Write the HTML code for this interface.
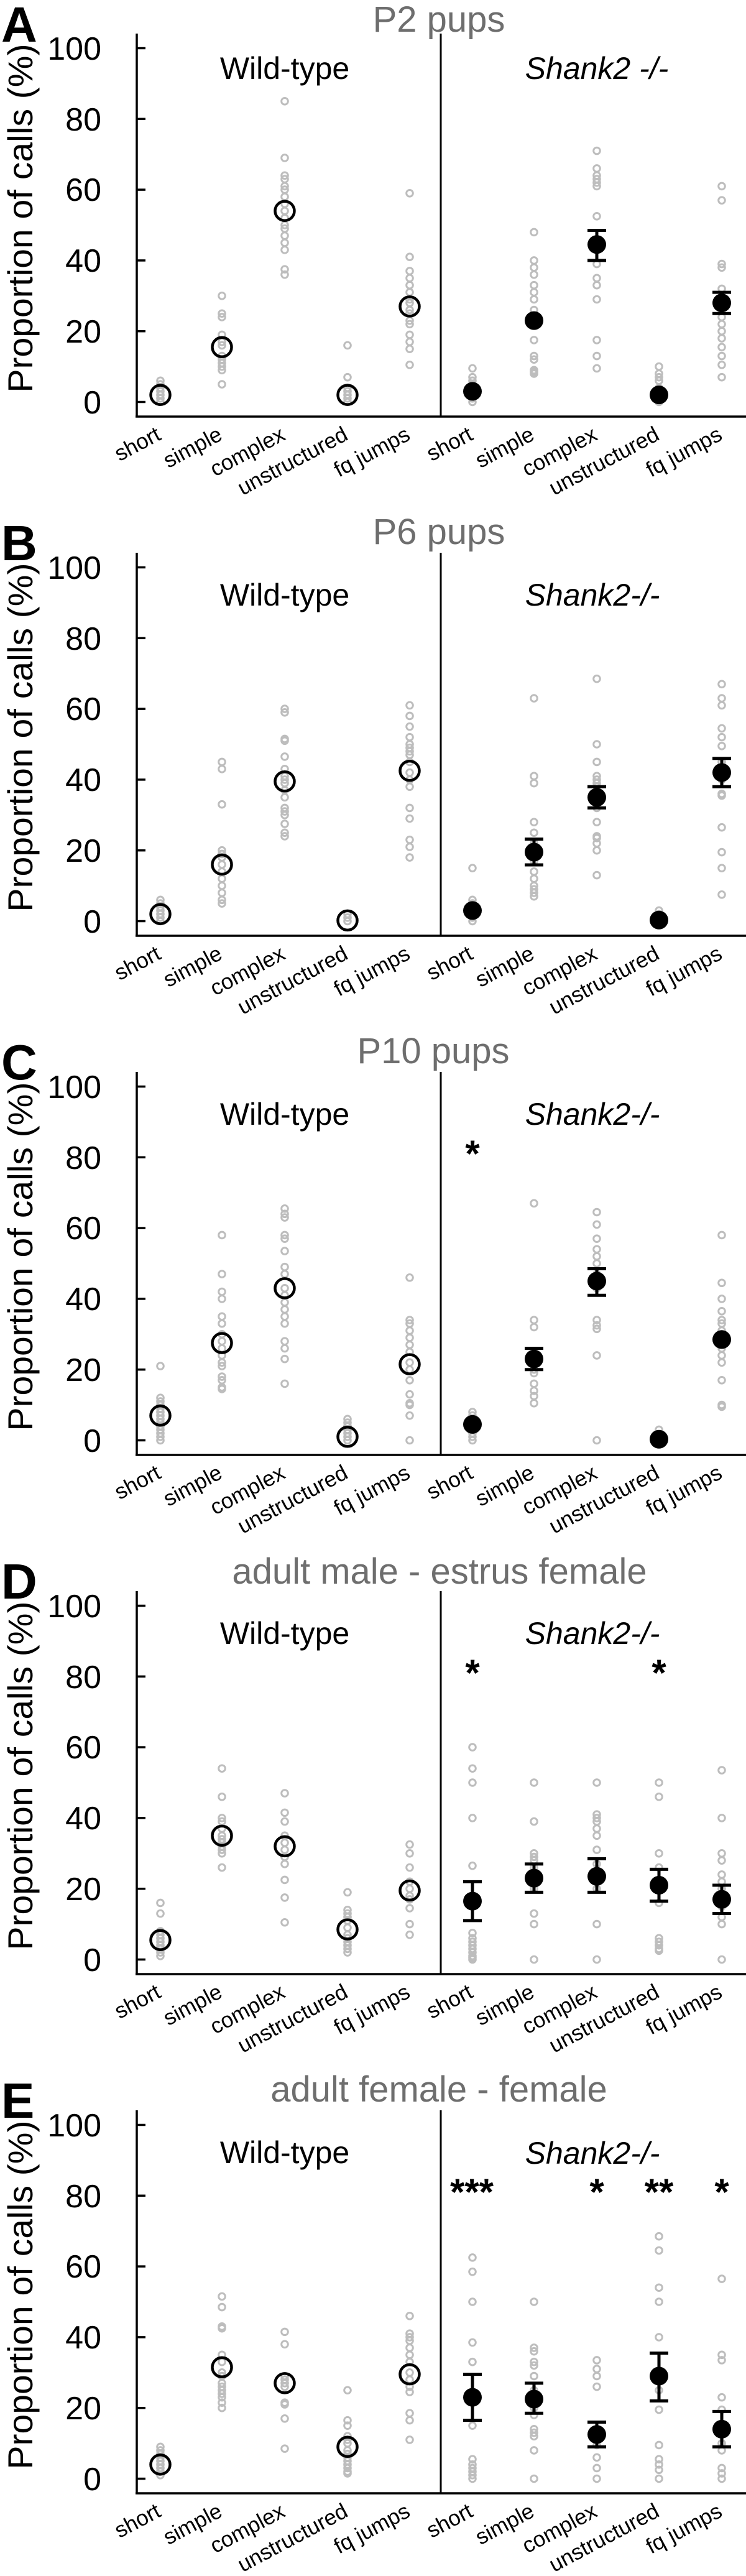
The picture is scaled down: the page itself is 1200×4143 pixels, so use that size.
<!DOCTYPE html>
<html><head><meta charset="utf-8">
<style>
html,body{margin:0;padding:0;background:#fff;}
svg{display:block;}
text{font-family:"Liberation Sans",Arial,sans-serif;}
.tl{font-size:52px;fill:#000;text-anchor:end;}
.yl{font-size:56px;fill:#000;text-anchor:middle;}
.ti{font-size:58px;fill:#6e6e6e;text-anchor:middle;}
.lt{font-size:80px;font-weight:bold;fill:#000;}
.gt{font-size:50px;fill:#000;text-anchor:middle;}
.xl{font-size:35px;fill:#000;text-anchor:end;}
.st{font-size:60px;font-weight:bold;fill:#000;text-anchor:middle;}
</style></head><body>
<svg id="s" width="1200" height="4143" viewBox="0 0 1200 4143" xmlns="http://www.w3.org/2000/svg">
<!-- Panel A -->
<g id="p0" transform="translate(0,0)">
<text class="lt" x="2" y="67">A</text>
<text class="ti" x="706" y="51">P2 pups</text>
<text class="gt" x="458" y="127">Wild-type</text>
<text class="gt" x="960" y="127" font-style="italic">Shank2 -/-</text>
<text class="yl" transform="translate(52,351) rotate(-90)" textLength="561" lengthAdjust="spacingAndGlyphs">Proportion of calls (%)</text>
<text class="tl" x="163" y="96">100</text><text class="tl" x="163" y="210">80</text><text class="tl" x="163" y="323">60</text><text class="tl" x="163" y="437">40</text><text class="tl" x="163" y="551">20</text><text class="tl" x="163" y="665">0</text>
<text class="xl" transform="translate(261,706) rotate(-28)">short</text><text class="xl" transform="translate(360,706) rotate(-28)">simple</text><text class="xl" transform="translate(461,706) rotate(-28)">complex</text><text class="xl" transform="translate(562,706) rotate(-28)">unstructured</text><text class="xl" transform="translate(662,706) rotate(-28)">fq jumps</text>
<text class="xl" transform="translate(763,706) rotate(-28)">short</text><text class="xl" transform="translate(862,706) rotate(-28)">simple</text><text class="xl" transform="translate(963,706) rotate(-28)">complex</text><text class="xl" transform="translate(1063,706) rotate(-28)">unstructured</text><text class="xl" transform="translate(1164,706) rotate(-28)">fq jumps</text>
</g>
<!-- Panel B -->
<g id="p1" transform="translate(0,835)">
<text class="lt" x="2" y="66">B</text>
<text class="ti" x="706" y="40">P6 pups</text>
<text class="gt" x="458" y="139">Wild-type</text>
<text class="gt" x="953" y="139" font-style="italic">Shank2-/-</text>
<text class="yl" transform="translate(52,351) rotate(-90)" textLength="561" lengthAdjust="spacingAndGlyphs">Proportion of calls (%)</text>
<text class="tl" x="163" y="96">100</text><text class="tl" x="163" y="210">80</text><text class="tl" x="163" y="323">60</text><text class="tl" x="163" y="437">40</text><text class="tl" x="163" y="551">20</text><text class="tl" x="163" y="665">0</text>
<text class="xl" transform="translate(261,706) rotate(-28)">short</text><text class="xl" transform="translate(360,706) rotate(-28)">simple</text><text class="xl" transform="translate(461,706) rotate(-28)">complex</text><text class="xl" transform="translate(562,706) rotate(-28)">unstructured</text><text class="xl" transform="translate(662,706) rotate(-28)">fq jumps</text>
<text class="xl" transform="translate(763,706) rotate(-28)">short</text><text class="xl" transform="translate(862,706) rotate(-28)">simple</text><text class="xl" transform="translate(963,706) rotate(-28)">complex</text><text class="xl" transform="translate(1063,706) rotate(-28)">unstructured</text><text class="xl" transform="translate(1164,706) rotate(-28)">fq jumps</text>
</g>
<!-- Panel C -->
<g id="p2" transform="translate(0,1670)">
<text class="lt" x="2" y="66">C</text>
<text class="ti" x="697" y="40">P10 pups</text>
<text class="gt" x="458" y="139">Wild-type</text>
<text class="gt" x="953" y="139" font-style="italic">Shank2-/-</text>
<text class="st" x="760" y="206">*</text>
<text class="yl" transform="translate(52,351) rotate(-90)" textLength="561" lengthAdjust="spacingAndGlyphs">Proportion of calls (%)</text>
<text class="tl" x="163" y="96">100</text><text class="tl" x="163" y="210">80</text><text class="tl" x="163" y="323">60</text><text class="tl" x="163" y="437">40</text><text class="tl" x="163" y="551">20</text><text class="tl" x="163" y="665">0</text>
<text class="xl" transform="translate(261,706) rotate(-28)">short</text><text class="xl" transform="translate(360,706) rotate(-28)">simple</text><text class="xl" transform="translate(461,706) rotate(-28)">complex</text><text class="xl" transform="translate(562,706) rotate(-28)">unstructured</text><text class="xl" transform="translate(662,706) rotate(-28)">fq jumps</text>
<text class="xl" transform="translate(763,706) rotate(-28)">short</text><text class="xl" transform="translate(862,706) rotate(-28)">simple</text><text class="xl" transform="translate(963,706) rotate(-28)">complex</text><text class="xl" transform="translate(1063,706) rotate(-28)">unstructured</text><text class="xl" transform="translate(1164,706) rotate(-28)">fq jumps</text>
</g>
<!-- Panel D -->
<g id="p3" transform="translate(0,2505)">
<text class="lt" x="2" y="66">D</text>
<text class="ti" x="707" y="42">adult male - estrus female</text>
<text class="gt" x="458" y="139">Wild-type</text>
<text class="gt" x="953" y="139" font-style="italic">Shank2-/-</text>
<text class="st" x="760" y="206">*</text>
<text class="st" x="1060" y="206">*</text>
<text class="yl" transform="translate(52,351) rotate(-90)" textLength="561" lengthAdjust="spacingAndGlyphs">Proportion of calls (%)</text>
<text class="tl" x="163" y="96">100</text><text class="tl" x="163" y="210">80</text><text class="tl" x="163" y="323">60</text><text class="tl" x="163" y="437">40</text><text class="tl" x="163" y="551">20</text><text class="tl" x="163" y="665">0</text>
<text class="xl" transform="translate(261,706) rotate(-28)">short</text><text class="xl" transform="translate(360,706) rotate(-28)">simple</text><text class="xl" transform="translate(461,706) rotate(-28)">complex</text><text class="xl" transform="translate(562,706) rotate(-28)">unstructured</text><text class="xl" transform="translate(662,706) rotate(-28)">fq jumps</text>
<text class="xl" transform="translate(763,706) rotate(-28)">short</text><text class="xl" transform="translate(862,706) rotate(-28)">simple</text><text class="xl" transform="translate(963,706) rotate(-28)">complex</text><text class="xl" transform="translate(1063,706) rotate(-28)">unstructured</text><text class="xl" transform="translate(1164,706) rotate(-28)">fq jumps</text>
</g>
<!-- Panel E -->
<g id="p4" transform="translate(0,3340)">
<text class="lt" x="2" y="66">E</text>
<text class="ti" x="706" y="40">adult female - female</text>
<text class="gt" x="953" y="140" font-style="italic">Shank2-/-</text>
<text class="gt" x="458" y="139">Wild-type</text>
<text class="st" x="759" y="206">***</text>
<text class="st" x="960" y="206">*</text>
<text class="st" x="1060" y="206">**</text>
<text class="st" x="1161" y="206">*</text>
<text class="yl" transform="translate(52,351) rotate(-90)" textLength="561" lengthAdjust="spacingAndGlyphs">Proportion of calls (%)</text>
<text class="tl" x="163" y="96">100</text><text class="tl" x="163" y="210">80</text><text class="tl" x="163" y="323">60</text><text class="tl" x="163" y="437">40</text><text class="tl" x="163" y="551">20</text><text class="tl" x="163" y="665">0</text>
<text class="xl" transform="translate(261,706) rotate(-28)">short</text><text class="xl" transform="translate(360,706) rotate(-28)">simple</text><text class="xl" transform="translate(461,706) rotate(-28)">complex</text><text class="xl" transform="translate(562,706) rotate(-28)">unstructured</text><text class="xl" transform="translate(662,706) rotate(-28)">fq jumps</text>
<text class="xl" transform="translate(763,706) rotate(-28)">short</text><text class="xl" transform="translate(862,706) rotate(-28)">simple</text><text class="xl" transform="translate(963,706) rotate(-28)">complex</text><text class="xl" transform="translate(1063,706) rotate(-28)">unstructured</text><text class="xl" transform="translate(1164,706) rotate(-28)">fq jumps</text>
</g>
</svg>
<script>
(function(){
var NS="http://www.w3.org/2000/svg";
var X=[258,357,458,559,659,760,859,960,1060,1161];
function Y(v){return 646.5-5.69*v;}
function el2(g,n,a){var e=document.createElementNS(NS,n);for(var k in a)e.setAttribute(k,a[k]);g.appendChild(e);return e;}
var P=[
[[2,2,2,[0,1,2,3,4,5,6]],[15.5,15,16,[5,9,10,11,12,13,16,17,19,24,25,30]],[54,54,54,[36,37.5,43,45,47,49,50,52,54,56,58,60,61,63,64,69,85]],[2,2,2,[0,1,2,3,4,7,16]],[27,27,27,[10.5,15,17,19,22,23,25,26,28,29,31,33,35,37,41,59]],
 [3,2,4,[0,1,2,4,5,6,7,9.5]],[23,20.5,25.5,[8,8.5,9,12,13,17.5,22,26,29,31,33,36,38,40,48]],[44.5,40,48.5,[9.5,13,17.5,29,33,35,39,52.5,61,62,63,64,66,71]],[2,1.5,2.5,[0,1,3,4,6,7,8,10]],[28,25,31,[7,10.5,13,15.5,18,20,22,24,27,30,32,38,39,57,61]]],
[[2,2,2,[0,1,2,3,4,5,6]],[16,16,16,[5,6,8,10,12,14,16,18,19,20,33,43,45]],[39.5,39.5,39.5,[24,25,27.5,30,31,32,35,37,39,40,41,43,46.5,51,51.5,59,60]],[0.2,0.2,0.2,[0,1,2]],[42.5,42.5,42.5,[18,21,23,29,32,38,40,42,45,47,48,49,50,52,55,58,61]],
 [3,2,4,[0,1,2,3,4,5,6,15]],[19.5,15.9,23.2,[7,8,9,10,12,14,17,22,25,28,39,41,63]],[35,32,38,[13,20,22,23.5,24,28,32,35,36,38,39,40,41,45,50,68.5]],[0.3,0.3,0.3,[0,1,2,3]],[42,38,46,[7.5,15,19.5,26.5,35.5,36,40,45,49.5,52,54.5,61,63,67]]],
[[7,7,7,[0,1,2,3,4,5,6,7,8,9,10,11,12,21]],[27.5,27.5,27.5,[14.5,15,17,18,21,22,24,26,28,30,33,35,40,42,47,58]],[43,43,43,[16,23,26,28,33,35,37,39,41,43,47,49,53.5,57,58,63,64,65.5]],[1,1,1,[0,1,2,3,4,5,6]],[21.5,21.5,21.5,[0,7,10,10.5,13,17,20,22,25,27,29,31,33,34,46]],
 [4.5,4,5,[0,1,2,3,4,5,6,7,8]],[23,20,26,[10.5,12.5,14,16,19,20,23,32,34,67]],[45,41,48.5,[0,24,31.5,32.5,34,43,47,50,52,54,57,61,64.5]],[0.3,0.3,0.3,[0,1,3]],[28.5,26,31,[9.5,10,17,22,24,26,30,31,33,34,36.5,40,44.5,58]]],
[[5.5,5.5,5.5,[1,2,3,4,5,6,7,8,13,16]],[35,35,35,[26,30,31,32,33,34,35,37,39,40,46,54]],[32,32,32,[10.5,17.5,22.5,27,29,31,33,35,39,41.5,47]],[8.5,8.5,8.5,[2,3,4,5,6,7,9,11,12,13,14,19]],[19.5,19.5,19.5,[7,10,14.5,17,18,20,22,26,30,32.5]],
 [16.5,11,22,[0,0.5,1,2,3,4,5,6,7.5,26.5,40,50,54,60]],[23,19,27,[0,10,13,20,22,24,26,28,29,30,39,50]],[23.5,19,28.5,[0,10,20,25,27,31,35,37,39,40,41,50]],[21,16.5,25.5,[2.5,3,4,5,6,16,20,22,26,30,46,50]],[17,13,21,[0,10,12,15,18,20,22,24,28,30,40,53.5]]],
[[4,4,4,[1,2,3,4,5,6,7,8,9]],[31.5,31.5,31.5,[20,21.5,23,24,25,26,27,29,30,33,35,42.5,43,48.5,51.5]],[27,27,27,[8.5,17,21,21.5,26,27,28,29,38,41.5]],[9,9,9,[1.5,2,3,4,5,6,7,8,10,11,12,15,16.5,25]],[29.5,29.5,29.5,[11,16.5,18.5,24.5,26,28,30,33,35,37,39,40,41,46]],
 [23,16.5,29.5,[0,1,2,3,4,5.5,15,33,38.5,50,58.5,62.5]],[22.5,18.5,27,[0,8,12,13,14,18,20,25,29,32,33,36,37,50]],[12.5,9,16,[0,3,6,9.5,26,29,31,33.5]],[29,22,35.5,[0,2.5,4,5.5,9.5,19.5,25,40,50,54,64.5,68.5]],[14,9,19,[0,1.5,3,8,10,19.5,23,33.5,35,56.5]]]
];
for(var p=0;p<5;p++){
 var g=document.getElementById("p"+p);
 var grp=document.createElementNS(NS,"g");g.appendChild(grp);
 el2(grp,"line",{x1:220,y1:54,x2:220,y2:671.5,stroke:"#000","stroke-width":3.5});
 el2(grp,"line",{x1:218,y1:670,x2:1200,y2:670,stroke:"#000","stroke-width":3.5});
 el2(grp,"line",{x1:709,y1:54,x2:709,y2:670,stroke:"#000","stroke-width":3});
 for(var t=0;t<=100;t+=20)el2(grp,"line",{x1:220,y1:Y(t),x2:234,y2:Y(t),stroke:"#000","stroke-width":3.5});
 var S=P[p];
 for(var i=0;i<10;i++){
  var s=S[i],x=X[i];
  s[3].forEach(function(v){el2(grp,"circle",{cx:x,cy:Y(v),r:5.3,fill:"none",stroke:"#bdbdbd","stroke-width":3});});
 }
 for(var i=0;i<10;i++){
  var s=S[i],x=X[i];
  if(i<5){
   el2(grp,"circle",{cx:x,cy:Y(s[0]),r:15.5,fill:"none",stroke:"#000","stroke-width":4.5});
  }else{
   if(s[2]-s[1]>2){
    el2(grp,"line",{x1:x,y1:Y(s[1]),x2:x,y2:Y(s[2]),stroke:"#000","stroke-width":5});
    if(s[2]-s[1]>5.5){
     el2(grp,"line",{x1:x-15,y1:Y(s[1]),x2:x+15,y2:Y(s[1]),stroke:"#000","stroke-width":5});
     el2(grp,"line",{x1:x-15,y1:Y(s[2]),x2:x+15,y2:Y(s[2]),stroke:"#000","stroke-width":5});
    }
   }
   el2(grp,"circle",{cx:x,cy:Y(s[0]),r:15,fill:"#000"});
  }
 }
}
})();
</script>
</body></html>
